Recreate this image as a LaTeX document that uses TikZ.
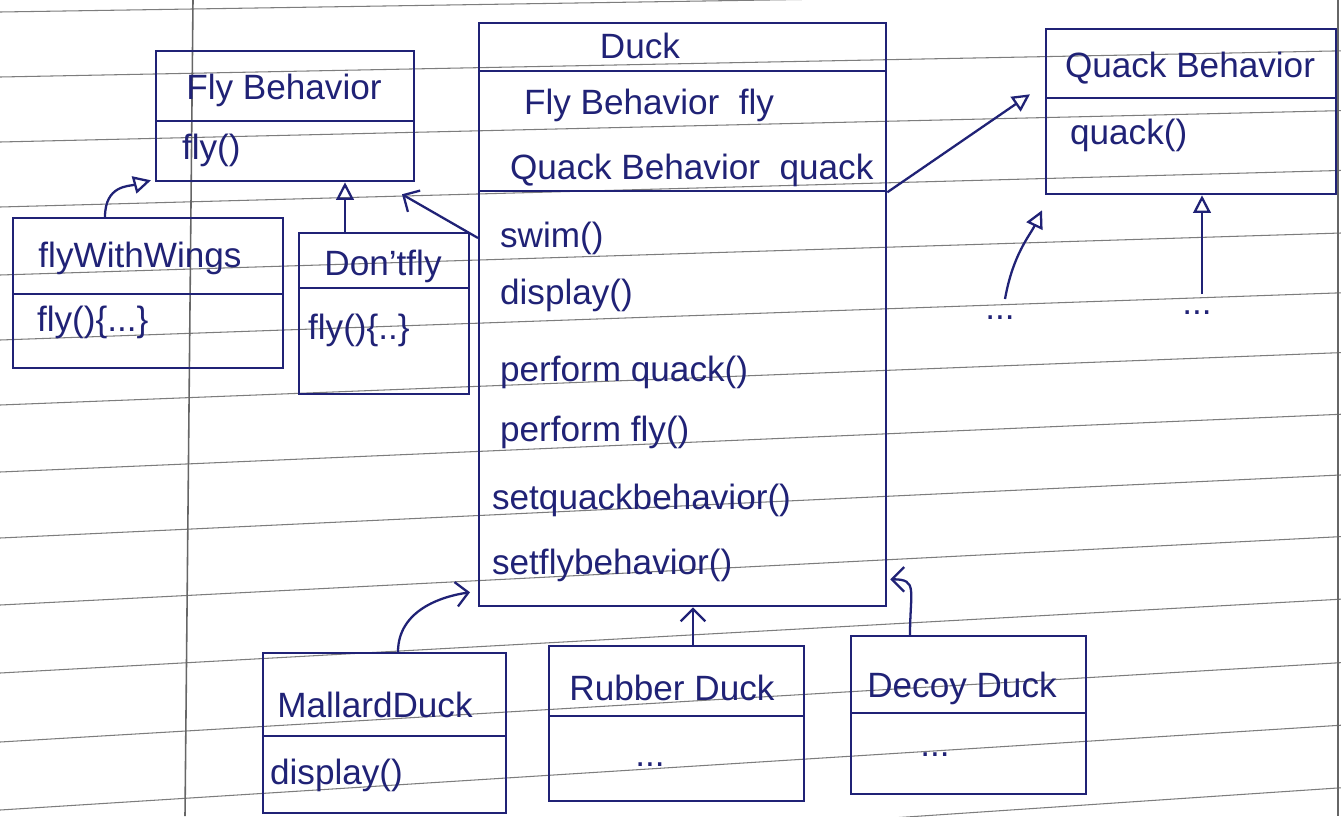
\documentclass[tikz,border=0pt]{standalone}
\usepackage{fontspec}
\setmainfont{Liberation Sans}
\usetikzlibrary{arrows.meta,calc}
\definecolor{ink}{RGB}{32,34,118}
\definecolor{ruling}{RGB}{125,125,125}
\begin{document}
\begin{tikzpicture}[x=0.02cm,y=-0.02cm,
  rule/.style={draw=ruling, line width=0.6pt},
  box/.style 2 args={draw=ink, line width=1.3pt, rectangle, inner sep=0pt,
    anchor=north west, minimum width=#1*0.02cm, minimum height=#2*0.02cm},
  txt/.style={text=ink, font=\fontsize{20}{24}\selectfont, inner sep=1pt},
  ltxt/.style={txt, anchor=west},
  gen/.style={draw=ink, line width=1.3pt, -{Triangle[open,length=10pt,width=10pt]}},
  barb/.style={draw=ink, line width=1.3pt, -{Straight Barb[length=7pt,width=14pt]}},
]
% page and ruling
\useasboundingbox (0,0) rectangle (1341,816);
\fill[white] (0,0) rectangle (1341,816);
\begin{scope}
  \clip (0,0) rectangle (1341,816);
  \foreach \L in {12,77,142,207,275,340,405,472,538,605,673,742,810,878}
    \draw[rule] (0,\L) -- (1341,{0.92*\L-20});
  \draw[rule, draw=black!60, line width=0.9pt] (193,0) -- (185,816);
  \draw[rule, draw=black!60, line width=1pt] (1338,0) -- (1338,816);
\end{scope}

% Fly Behavior interface
\node[box={258}{70}] (fbT) at (155,50) {};
\node[box={258}{60}] (fbB) at (155,120) {};
\node[txt] (fbN) at (284,90) {Fly Behavior};
\node[ltxt] (fbM) at (180,150) {fly()};

% flyWithWings
\node[box={270}{76}] (fwT) at (12,217) {};
\node[box={270}{74}] (fwB) at (12,293) {};
\node[txt] (fwN) at (140,258) {flyWithWings};
\node[ltxt] (fwM) at (35,322) {fly()\{...\}};

% Don'tfly
\node[box={170}{55}] (dfT) at (298,232) {};
\node[box={170}{106}] (dfB) at (298,287) {};
\node[txt] (dfN) at (383,266) {Don'tfly};
\node[ltxt] (dfM) at (306,330) {fly()\{..\}};

% Duck
\node[box={407}{48}] (dkT) at (478,22) {};
\node[box={407}{120}] (dkA) at (478,70) {};
\node[box={407}{415}] (dkM) at (478,190) {};
\node[txt] (dkN) at (640,46) {Duck};
\node[ltxt] (dkA1) at (522,105) {Fly Behavior\ \ fly};
\node[ltxt] (dkA2) at (508,170) {Quack Behavior\ \ quack};
\node[ltxt] (dkM1) at (498,238) {swim()};
\node[ltxt] (dkM2) at (498,295) {display()};
\node[ltxt] (dkM3) at (498,372) {perform quack()};
\node[ltxt] (dkM4) at (498,432) {perform fly()};
\node[ltxt] (dkM5) at (490,500) {setquackbehavior()};
\node[ltxt] (dkM6) at (490,565) {setflybehavior()};

% Quack Behavior interface
\node[box={290}{69}] (qbT) at (1045,28) {};
\node[box={290}{96}] (qbB) at (1045,97) {};
\node[txt] (qbN) at (1190,68) {Quack Behavior};
\node[ltxt] (qbM) at (1068,135) {quack()};
\node[txt] (q1) at (1000,318) {...};
\node[txt] (q2) at (1197,313) {...};

% Mallard Duck
\node[box={243}{83}] (mdT) at (262,652) {};
\node[box={243}{77}] (mdB) at (262,735) {};
\node[txt] (mdN) at (375,705) {MallardDuck};
\node[ltxt] (mdM) at (268,775) {display()};

% Rubber Duck
\node[box={255}{70}] (rdT) at (548,645) {};
\node[box={255}{85}] (rdB) at (548,715) {};
\node[txt] (rdN) at (672,688) {Rubber Duck};
\node[txt] (rdM) at (650,765) {...};

% Decoy Duck
\node[box={235}{77}] (ddT) at (850,635) {};
\node[box={235}{81}] (ddB) at (850,712) {};
\node[txt] (ddN) at (962,688) {Decoy Duck};
\node[txt] (ddM) at (935,755) {...};

% connectors
\draw[gen] ($(fwT.north west)+(93,0)$) .. controls +(0,-32) and +(-22,6) .. ($(fbB.south west)+(-4,-2)$);
\draw[gen] ($(dfT.north west)+(47,0)$) -- ($(fbB.south west)+(190,0)$);
\draw[barb] ($(dkM.north west)+(0,48)$) -- ($(fbB.south west)+(247,12)$);
\draw[gen] (dkA.south east) -- ($(qbT.south west)+(-15,-5)$);
\coordinate (q1s) at ($(q1.north)+(5,-15)$);
\coordinate (q2s) at ($(q2.north)+(5,-15)$);
\draw[gen] (q1s) .. controls +(8,-45) and +(-12,25) .. ($(qbB.south west)+(-3,15)$);
\draw[gen] (q2s) -- (q2s |- qbB.south);
\draw[barb] ($(mdT.north west)+(136,0)$) .. controls +(0,-42) and +(-28,4) .. ($(dkM.south west)+(-8,-15)$);
\coordinate (rds) at ($(rdT.north west)+(145,0)$);
\draw[barb] (rds) -- (rds |- dkM.south);
\draw[barb] ($(ddT.north west)+(60,0)$) .. controls +(0,-45) and +(28,0) .. ($(dkM.south east)+(3,-28)$);
\end{tikzpicture}
\end{document}
